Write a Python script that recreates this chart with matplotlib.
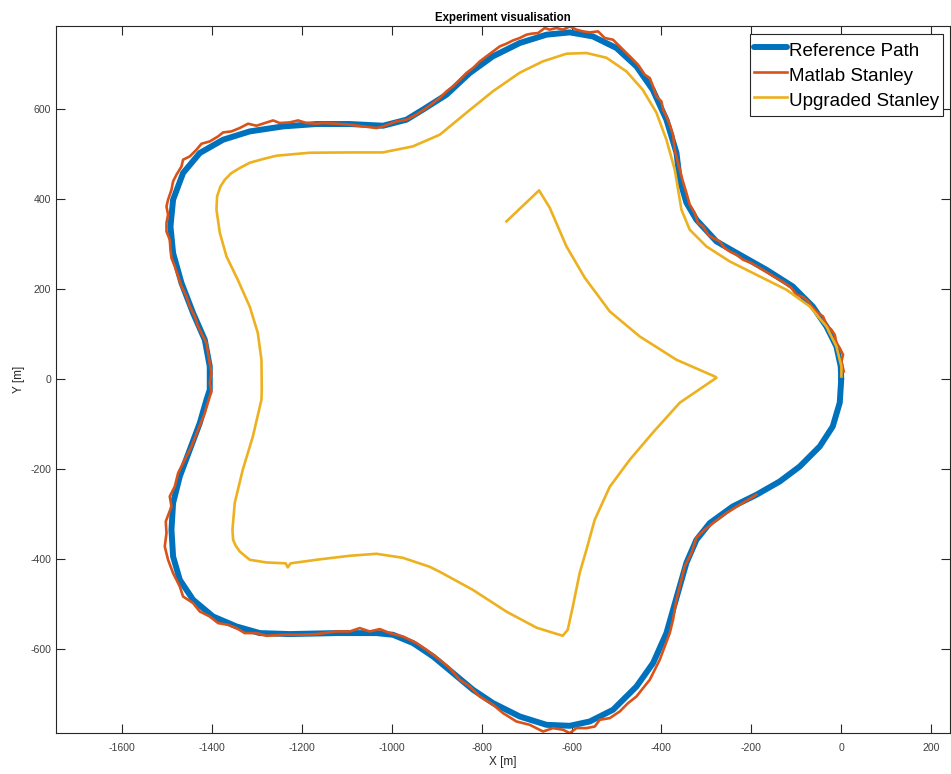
import matplotlib
matplotlib.use('Agg')
import matplotlib.pyplot as plt

# Reference path (closed loop, starts at the right tip and runs counter-clockwise)
ref_x = [0, -1.1, -10.7, -32.9, -63.4, -107.9, -166.4, -225.8, -277.6, -322.1,
         -344.4, -359.3, -366.6, -388.9, -419.4, -455.6, -500.1, -552.8, -604.0, -655.8,
         -715.2, -775.3, -826.5, -878.3, -931.0, -967.3, -1019.4, -1093.4, -1167.5, -1241.8,
         -1315.9, -1375.3, -1427.1, -1464.3, -1486.5, -1492.3, -1486.5, -1467.8, -1442.0, -1416.0,
         -1404.9, -1404.9, -1412.2, -1427.1, -1449.4, -1471.6, -1486.5, -1490.1, -1486.5, -1471.6,
         -1442.0, -1397.6, -1345.5, -1293.7, -1226.9, -1123.0, -1034.0, -997.1, -952.6, -908.1,
         -863.6, -819.1, -774.6, -715.2, -655.8, -604.0, -559.5, -507.7, -455.6, -418.7,
         -388.9, -366.6, -344.4, -322.1, -292.5, -241.4, -188.7, -136.8, -92.3, -47.8,
         -18.9, -3.3, 0]
ref_y = [0, 28.4, 72.9, 117.3, 161.8, 206.2, 243.3, 276.7, 306.2, 354.4,
         392.2, 443.3, 503.3, 576.7, 643.3, 695.1, 736.0, 761.8, 770.7, 765.6,
         747.1, 717.3, 680.4, 632.2, 598.9, 576.7, 563.3, 567.1, 567.1, 561.8,
         550.7, 532.2, 502.7, 458.2, 398.9, 339.6, 280.4, 213.8, 147.1, 87.8,
         28.4, -23.3, -45.6, -97.3, -156.7, -216.0, -275.1, -334.4, -393.8, -445.6,
         -490.0, -527.1, -549.3, -564.0, -566.2, -564.0, -564.0, -567.8, -586.2, -616.0,
         -652.9, -690.0, -719.6, -749.3, -767.8, -770.0, -760.4, -734.4, -682.7, -630.7,
         -564.0, -485.6, -407.8, -356.7, -319.6, -282.7, -256.7, -227.1, -193.8, -149.3,
         -104.9, -52.2, 0]

# Matlab Stanley trajectory
matlab_x = [5.6, 0.4, 4.0, -3.3, -10.7, -14.5, -21.8, -32.9, -40.5, -51.6,
            -62.7, -73.9, -85.0, -99.7, -110.8, -125.7, -144.2, -162.8, -181.3, -199.8,
            -218.5, -233.1, -248.1, -259.2, -270.3, -285.2, -296.3, -307.5, -318.6, -325.9,
            -337.0, -344.4, -353.3, -363.1, -370.4, -374.2, -381.5, -388.9, -396.4, -400.0,
            -411.1, -418.7, -426.0, -437.2, -452.1, -466.7, -481.6, -496.6, -507.7, -526.1,
            -541.0, -559.5, -574.4, -589.1, -604.0, -618.9, -633.6, -648.5, -659.6, -674.5,
            -689.2, -700.3, -715.2, -730.2, -744.8, -759.7, -774.6, -789.3, -804.2, -819.1,
            -833.8, -848.7, -863.6, -878.3, -893.2, -908.1, -922.8, -937.7, -952.6, -967.3,
            -989.5, -1019.4, -1034.0, -1063.8, -1093.4, -1123.0, -1152.8, -1167.5, -1189.8, -1208.4,
            -1227.0, -1249.3, -1264.1, -1282.6, -1301.0, -1319.7, -1338.2, -1356.6, -1375.3, -1386.4,
            -1404.9, -1423.3, -1434.5, -1449.4, -1464.3, -1467.8, -1479.0, -1486.5, -1490.1, -1497.7,
            -1501.2, -1497.7, -1501.2, -1501.2, -1493.9, -1492.3, -1490.1, -1482.7, -1475.3, -1467.8,
            -1456.7, -1449.4, -1438.2, -1430.9, -1419.8, -1412.2, -1408.7, -1404.9, -1401.1, -1404.9,
            -1401.1, -1404.9, -1416.0, -1430.9, -1445.6, -1460.5, -1475.3, -1482.7, -1493.9, -1490.1,
            -1502.8, -1501.2, -1505.0, -1497.7, -1486.5, -1471.6, -1464.3, -1442.0, -1427.1, -1404.9,
            -1386.4, -1364.2, -1345.5, -1327.0, -1301.0, -1278.8, -1241.8, -1204.7, -1167.5, -1123.0,
            -1093.4, -1071.2, -1048.9, -1026.7, -1004.4, -974.9, -945.0, -922.8, -893.2, -871.0,
            -848.7, -826.5, -804.2, -774.6, -752.4, -722.6, -693.0, -663.4, -641.2, -618.9,
            -604.0, -589.1, -566.9, -548.4, -537.3, -515.0, -492.8, -474.3, -455.6, -440.9,
            -426.0, -414.9, -403.8, -392.6, -381.5, -374.2, -366.6, -355.5, -348.2, -333.3,
            -322.1, -303.7, -285.2, -255.4, -225.8, -188.7]
matlab_y = [17.3, 39.6, 54.4, 69.3, 80.4, 98.9, 110.0, 121.1, 139.6, 147.1,
            158.2, 172.9, 182.7, 187.8, 202.7, 213.8, 224.9, 236.0, 247.1, 258.2,
            265.6, 276.7, 284.0, 291.6, 306.2, 313.8, 321.1, 339.6, 347.1, 369.3,
            387.8, 413.8, 443.3, 480.4, 510.0, 543.3, 565.6, 584.0, 598.9, 617.3,
            628.4, 650.7, 669.3, 676.7, 698.9, 713.8, 728.4, 743.3, 754.4, 758.2,
            772.9, 770.7, 772.9, 776.7, 784.0, 776.7, 780.4, 776.7, 780.4, 769.3,
            767.8, 765.6, 758.2, 752.9, 745.6, 739.6, 728.4, 717.3, 706.2, 691.6,
            680.4, 665.6, 650.7, 639.6, 624.9, 613.8, 602.7, 592.9, 584.0, 576.7,
            572.9, 561.8, 558.2, 561.8, 565.6, 567.8, 569.3, 567.8, 569.3, 575.1,
            570.7, 569.3, 575.1, 569.3, 563.3, 567.8, 558.2, 550.7, 548.4, 539.6,
            528.4, 523.3, 510.0, 495.1, 487.8, 472.9, 454.4, 439.6, 421.1, 398.9,
            384.0, 365.6, 347.1, 328.4, 310.0, 287.8, 269.3, 250.7, 228.4, 206.2,
            184.0, 161.8, 139.6, 117.3, 95.1, 80.4, 58.2, 36.0, 13.8, -8.4,
            -27.8, -38.2, -75.1, -112.2, -149.3, -178.9, -208.4, -238.2, -260.4, -282.7,
            -316.0, -341.8, -371.6, -401.1, -430.7, -460.4, -482.7, -497.3, -516.0, -527.1,
            -541.8, -545.6, -552.9, -564.0, -564.0, -570.0, -567.8, -567.8, -566.2, -560.4,
            -560.4, -552.9, -560.4, -555.1, -564.0, -571.6, -586.2, -601.1, -623.3, -641.8,
            -667.8, -682.7, -704.9, -723.3, -741.8, -760.4, -767.8, -782.7, -775.1, -778.9,
            -786.2, -775.1, -775.1, -771.6, -756.7, -752.9, -738.2, -719.6, -704.9, -686.2,
            -667.8, -645.6, -623.3, -593.8, -564.0, -534.4, -490.0, -445.6, -416.0, -386.2,
            -352.2, -334.4, -319.6, -297.3, -278.9, -256.7]

# Upgraded Stanley trajectory
upgraded_x = [0.4, 0.4, -10.7, -32.9, -70.1, -121.9, -188.7, -248.1, -299.9, -337.0,
              -355.5, -366.6, -370.4, -388.9, -411.1, -441.6, -477.9, -522.4, -566.9, -611.3,
              -664.1, -715.2, -775.3, -833.8, -893.2, -953.3, -1020.0, -1093.4, -1182.4, -1256.5,
              -1286.3, -1315.9, -1338.2, -1356.6, -1371.5, -1381.1, -1388.6, -1390.0, -1382.6, -1367.7,
              -1342.6, -1315.9, -1298.1, -1289.9, -1289.2, -1289.9, -1309.2, -1331.5, -1349.3, -1354.4,
              -1353.0, -1347.0, -1338.2, -1327.0, -1315.9, -1278.8, -1236.0, -1231.4, -1225.0, -1167.5,
              -1093.4, -1034.0, -975.5, -915.5, -893.2, -819.8, -744.2, -677.4, -619.6, -608.5,
              -597.3, -581.8, -566.9, -548.4, -515.0, -470.5, -419.4, -359.3, -277.6, -281.4,
              -366.6, -448.3, -515.0, -570.6, -611.3, -648.5, -672.3, -744.8]
upgraded_y = [6.2, 28.4, 72.9, 117.3, 161.8, 198.9, 232.2, 261.8, 295.1, 332.2,
              376.7, 443.3, 465.6, 532.2, 592.2, 643.3, 684.0, 714.4, 724.9, 723.3,
              706.2, 681.1, 639.6, 592.2, 543.3, 517.3, 504.0, 504.0, 503.3, 496.7,
              489.3, 481.1, 469.3, 458.2, 443.3, 428.4, 406.2, 376.7, 325.6, 272.9,
              221.1, 161.1, 103.3, 43.3, -23.3, -45.6, -127.8, -201.1, -274.4, -334.4,
              -356.7, -370.0, -382.7, -392.2, -401.1, -407.1, -409.0, -418.0, -409.0, -401.1,
              -392.2, -387.8, -396.7, -416.7, -427.8, -467.8, -516.7, -552.2, -570.0, -556.7,
              -505.6, -430.0, -378.9, -312.2, -238.9, -178.9, -118.9, -52.2, 3.3, 6.2,
              43.3, 95.1, 150.7, 225.6, 295.1, 381.1, 419.6, 350.7]

x_ticks = [-1600, -1400, -1200, -1000, -800, -600, -400, -200, 0, 200]
y_ticks = [-600, -400, -200, 0, 200, 400, 600]

plt.rcParams['font.family'] = ['Liberation Sans', 'DejaVu Sans']
plt.rcParams['axes.unicode_minus'] = False

fig = plt.figure(figsize=(9.51, 7.74), dpi=100)
ax = fig.add_axes([56 / 951, 41 / 774, 894 / 951, 706.6 / 774])

ax.plot(ref_x, ref_y, color='#0072BD', linewidth=4.3, label='Reference Path',
        solid_joinstyle='round', solid_capstyle='round')
ax.plot(matlab_x, matlab_y, color='#D95319', linewidth=1.9, label='Matlab Stanley',
        solid_joinstyle='round')
ax.plot(upgraded_x, upgraded_y, color='#EDB120', linewidth=1.9, label='Upgraded Stanley',
        solid_joinstyle='round')

ax.set_xlim(-1747, 242)
ax.set_ylim(-786, 784)
ax.set_xticks(x_ticks)
ax.set_yticks(y_ticks)
ax.tick_params(direction='in', length=6.5, width=0.8, colors='#262626',
               labelcolor='#404040', labelsize=7.6, top=True, right=True)
ax.tick_params(axis='x', pad=7)
ax.tick_params(axis='y', pad=3.5)
for s in ax.spines.values():
    s.set_color('#262626')
    s.set_linewidth(0.8)

ax.set_xlabel('X [m]', fontsize=8.5, color='#262626', labelpad=2)
ax.set_ylabel('Y [m]', fontsize=8.5, color='#262626', labelpad=4)
ax.set_title('Experiment visualisation', fontsize=8.3, fontweight='bold', pad=4)

leg = ax.legend(loc='upper right', bbox_to_anchor=(943 / 951, 1 - 34 / 774),
                bbox_transform=fig.transFigure, borderaxespad=0, fontsize=13.5,
                frameon=True, fancybox=False, framealpha=1, edgecolor='#262626',
                handlelength=1.8, handleheight=1.66, handletextpad=0.1,
                borderpad=0.2, labelspacing=0.0)
leg.get_frame().set_linewidth(0.8)

fig.savefig('out.png', dpi=100)
